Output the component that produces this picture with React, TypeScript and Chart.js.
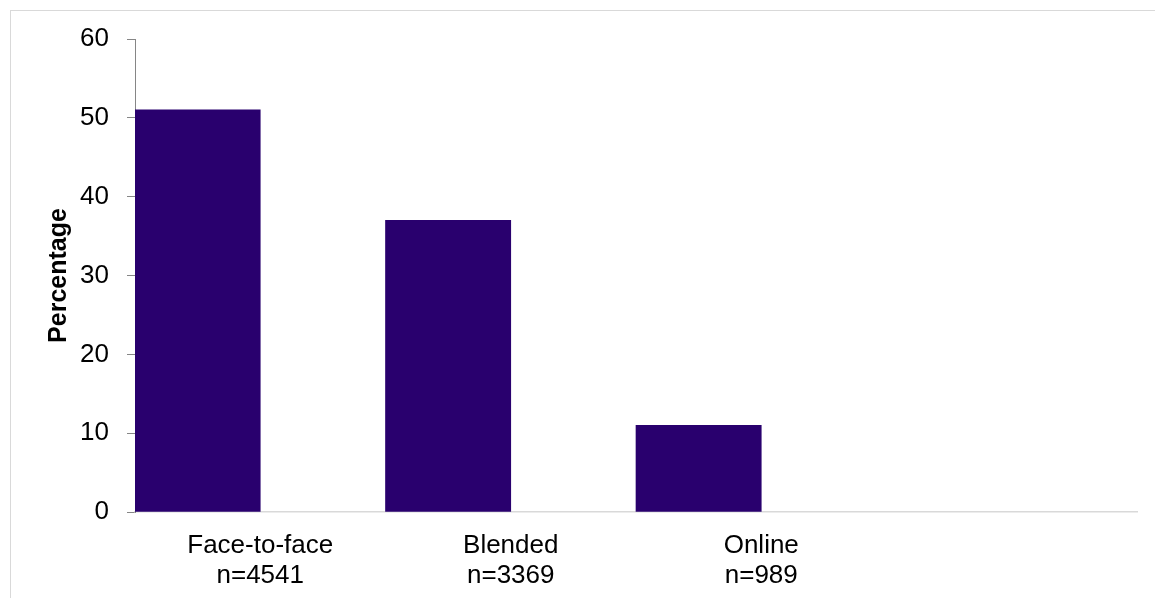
import React, { useEffect, useRef } from "react";
import { Chart, registerables } from "chart.js";

Chart.register(...registerables);

// Delivery mode categories (the fourth slot is left empty on purpose)
const categories: string[][] = [
  ["Face-to-face", "n=4541"],
  ["Blended", "n=3369"],
  ["Online", "n=989"],
  [""],
];

// Share of respondents per delivery mode, in percent
const percentages: (number | null)[] = [51, 37, 11, null];
// Companion series with no values; keeps each bar in the left half of its slot
const emptySeries: (number | null)[] = [null, null, null, null];

const yTicks = { min: 0, max: 60, step: 10 };

const FONT = "'Liberation Sans', Arial, sans-serif";
const BAR_COLOR = "#29006e";

export default function App() {
  const canvasRef = useRef<HTMLCanvasElement | null>(null);

  useEffect(() => {
    const canvas = canvasRef.current;
    if (!canvas) return;
    const chart = new Chart(canvas, {
      type: "bar",
      data: {
        labels: categories,
        datasets: [
          {
            label: "Percentage",
            data: percentages,
            backgroundColor: BAR_COLOR,
            borderWidth: 0,
            categoryPercentage: 1,
            barPercentage: 1,
          },
          {
            label: "",
            data: emptySeries,
            backgroundColor: "rgba(0,0,0,0)",
            categoryPercentage: 1,
            barPercentage: 1,
          },
        ],
      },
      options: {
        responsive: false,
        animation: false,
        devicePixelRatio: 1,
        layout: { padding: { left: 44, top: 39, right: 18, bottom: 0 } },
        plugins: {
          legend: { display: false },
          tooltip: { enabled: false },
        },
        scales: {
          x: {
            grid: { display: false, drawTicks: false },
            border: { display: true, color: "#d9d9d9", width: 1.5 },
            ticks: {
              color: "#000",
              padding: 19,
              maxRotation: 0,
              autoSkip: false,
              font: { family: FONT, size: 26, lineHeight: 1.15 },
            },
            afterFit: (scale: any) => {
              scale.height = 598 - 512;
            },
          },
          y: {
            min: yTicks.min,
            max: yTicks.max,
            ticks: {
              stepSize: yTicks.step,
              color: "#000",
              padding: 18,
              font: { family: FONT, size: 26 },
            },
            grid: {
              drawOnChartArea: false,
              drawTicks: true,
              tickLength: 8,
              color: "#868686",
            },
            border: { display: true, color: "#868686", width: 1 },
            title: {
              display: true,
              text: "Percentage",
              color: "#000",
              padding: 0,
              font: { family: FONT, size: 25, weight: "bold", lineHeight: 1.2 },
            },
            afterFit: (scale: any) => {
              scale.width = 135 - 44;
            },
          },
        },
      },
    });
    return () => chart.destroy();
  }, []);

  return (
    <div
      style={{
        position: "fixed",
        left: 0,
        top: 0,
        width: 1155,
        height: 598,
        overflow: "hidden",
        background: "#fff",
      }}
    >
      <div
        style={{
          position: "absolute",
          left: 10,
          top: 10,
          width: 1160,
          height: 600,
          borderTop: "1px solid #d9d9d9",
          borderLeft: "1px solid #d9d9d9",
        }}
      />
      <canvas
        ref={canvasRef}
        width={1155}
        height={598}
        style={{ position: "absolute", left: 0, top: 0 }}
      />
    </div>
  );
}
